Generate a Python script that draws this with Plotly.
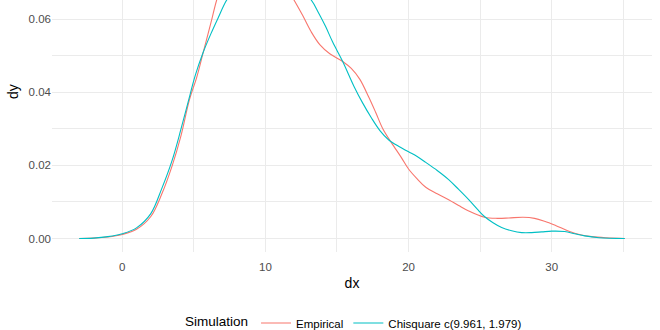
import plotly.graph_objects as go

# Empirical density (red)
emp_x = [-3, -2, -1, 0, 1, 2, 2.75, 3.5, 4.1, 4.7, 5.2, 5.7, 6.2, 6.6, 7.3, 8.0, 8.8, 9.6,
         10.4, 11.2, 12.0, 12.6, 13.2, 13.8, 14.5, 15.4, 16.0, 16.6, 17.2, 17.7, 18.2, 18.8,
         19.5, 20.0, 20.6, 21.2, 22.0, 22.8, 23.5, 24.2, 25.3, 26.2, 27.0, 28.0, 28.8, 29.5,
         30.3, 31.2, 32.0, 32.8, 33.8, 35.1]
emp_y = [0.0, 0.0001, 0.0004, 0.0011, 0.0025, 0.0060, 0.0120, 0.0200, 0.0280, 0.0380, 0.0440,
         0.0515, 0.0590, 0.0652, 0.0735, 0.0780, 0.0795, 0.0785, 0.0755, 0.0705, 0.0652,
         0.0610, 0.0565, 0.0530, 0.0505, 0.0484, 0.0465, 0.0435, 0.0388, 0.0345, 0.0300,
         0.0262, 0.0221, 0.0190, 0.0163, 0.0140, 0.0122, 0.0106, 0.0090, 0.0075, 0.0058,
         0.0055, 0.0056, 0.0058, 0.0055, 0.0047, 0.0035, 0.0020, 0.0010, 0.0005, 0.0002, 0.0]

# Chi-square simulation density (cyan)
chi_x = [-3, -2, -1, 0, 1, 2, 2.75, 3.5, 4.1, 4.6, 5.1, 5.64, 6.2, 6.7, 7.3, 8.2, 9.2, 10.2,
         11.2, 12.2, 13.2, 13.7, 14.2, 14.7, 15.4, 16.2, 16.8, 17.4, 18.0, 18.6, 19.3, 20.0,
         20.6, 21.2, 22.0, 22.8, 23.5, 24.2, 24.8, 25.3, 25.9, 26.5, 27.2, 27.9, 28.6, 29.3,
         30.0, 30.9, 31.6, 32.3, 33.3, 35.1]
chi_y = [0.0, 0.0001, 0.0005, 0.0013, 0.0029, 0.0068, 0.0135, 0.0215, 0.0298, 0.0372, 0.0445,
         0.0507, 0.0560, 0.0603, 0.0652, 0.0700, 0.0725, 0.0730, 0.0720, 0.0690, 0.0652,
         0.0618, 0.0580, 0.0537, 0.0484, 0.0415, 0.0370, 0.0330, 0.0295, 0.0270, 0.0252,
         0.0237, 0.0224, 0.0208, 0.0186, 0.0161, 0.0134, 0.0106, 0.0080, 0.0060, 0.0043,
         0.0030, 0.0021, 0.0016, 0.0016, 0.0018, 0.0020, 0.0019, 0.0013, 0.0007, 0.0002, 0.0]

series_names = ["Empirical", "Chisquare c(9.961, 1.979)"]
series_colors = ["#F8766D", "#00BFC4"]

x_ticks = [0, 10, 20, 30]
y_ticks = [0.00, 0.02, 0.04, 0.06]
y_ticklabels = ["0.00", "0.02", "0.04", "0.06"]

fig = go.Figure()
for xs, ys, name, col in [(emp_x, emp_y, series_names[0], series_colors[0]),
                          (chi_x, chi_y, series_names[1], series_colors[1])]:
    fig.add_trace(go.Scatter(x=xs, y=ys, mode="lines", name=name,
                             line=dict(color=col, width=1.1, shape="spline", smoothing=1.0)))

grid = "#EBEBEB"
font_family = "Liberation Sans, Arial, sans-serif"

fig.update_layout(
    width=660, height=330,
    margin=dict(l=52, r=8, t=0, b=78, autoexpand=False),
    plot_bgcolor="white", paper_bgcolor="white",
    font=dict(family=font_family, color="#000000"),
    showlegend=True,
    legend=dict(orientation="h", x=0.505, xanchor="center", y=-0.282, yanchor="middle",
                title=dict(text="Simulation", font=dict(size=13.5, color="#000000")),
                font=dict(size=11.5, color="#000000"), itemwidth=30),
    xaxis=dict(range=[-4.9, 37.0], tickvals=x_ticks, ticks="", showline=False, zeroline=False,
               showgrid=True, gridcolor=grid, gridwidth=1, ticklabelstandoff=6,
               minor=dict(dtick=5, tick0=0, showgrid=True, gridcolor=grid, gridwidth=0.6),
               tickfont=dict(size=11.5, color="#4D4D4D"),
               title=dict(text="dx", font=dict(size=14, color="#000000"), standoff=6)),
    yaxis=dict(range=[-0.0037, 0.0652], tickvals=y_ticks, ticktext=y_ticklabels, ticks="",
               showline=False, zeroline=False,
               showgrid=True, gridcolor=grid, gridwidth=1,
               minor=dict(dtick=0.01, tick0=0, showgrid=True, gridcolor=grid, gridwidth=0.6),
               tickfont=dict(size=11.5, color="#4D4D4D")),
    annotations=[dict(text="dy", textangle=-90, xref="paper", yref="paper",
                      x=-0.065, y=0.635, xanchor="center", yanchor="middle", showarrow=False,
                      font=dict(size=14, color="#000000"))],
)

fig.write_html("out.html")
